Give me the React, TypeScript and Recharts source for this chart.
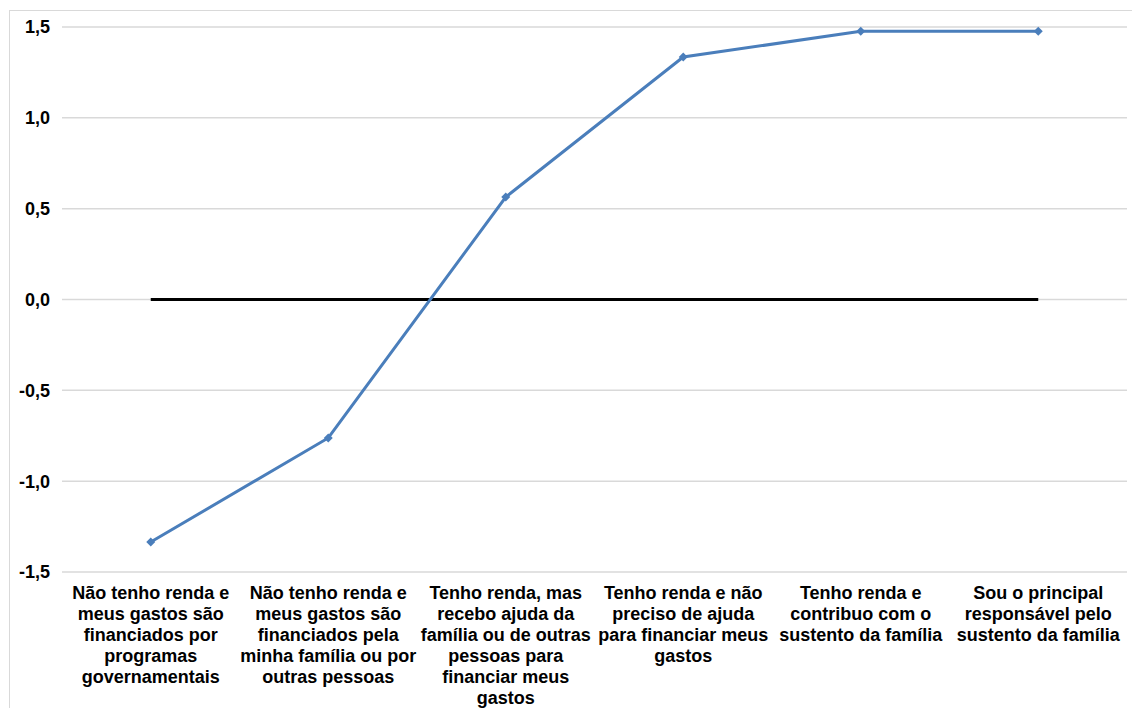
import { CartesianGrid, Line, LineChart, XAxis, YAxis } from "recharts";

const categories = [
  "Não tenho renda e\nmeus gastos são\nfinanciados por\nprogramas\ngovernamentais",
  "Não tenho renda e\nmeus gastos são\nfinanciados pela\nminha família ou por\noutras pessoas",
  "Tenho renda, mas\nrecebo ajuda da\nfamília ou de outras\npessoas para\nfinanciar meus\ngastos",
  "Tenho renda e não\npreciso de ajuda\npara financiar meus\ngastos",
  "Tenho renda e\ncontribuo com o\nsustento da família",
  "Sou o principal\nresponsável pelo\nsustento da família",
];
const scores = [-1.335, -0.762, 0.564, 1.335, 1.476, 1.476];
const zeroLine = [0, 0, 0, 0, 0, 0];
const yTicks = [-1.5, -1, -0.5, 0, 0.5, 1, 1.5];

const data = categories.map((name, i) => ({
  name,
  score: scores[i],
  zero: zeroLine[i],
}));

const FONT = "'Liberation Sans', Arial, sans-serif";

// multi-line category label under the axis
function CategoryTick(props: any) {
  const { x, y, payload } = props;
  const lines = String(payload.value).split("\n");
  return (
    <text
      x={x}
      y={y + 27}
      textAnchor="middle"
      fontFamily={FONT}
      fontWeight="bold"
      fontSize={18}
      fill="#000"
    >
      {lines.map((line, i) => (
        <tspan key={i} x={x} dy={i === 0 ? 0 : 21}>
          {line}
        </tspan>
      ))}
    </text>
  );
}

function Diamond(props: any) {
  const { cx, cy } = props;
  if (cx == null || cy == null) return null;
  const r = 4.5;
  return (
    <polygon
      points={`${cx},${cy - r} ${cx + r},${cy} ${cx},${cy + r} ${cx - r},${cy}`}
      fill="#4a7ebb"
    />
  );
}

export default function App() {
  return (
    <div style={{ position: "absolute", left: 0, top: 0, width: 1132, height: 708, background: "#fff" }}>
      {/* frame */}
      <div style={{ position: "absolute", left: 9, top: 10, width: 1123, height: 1, background: "#d9d9d9" }} />
      <div style={{ position: "absolute", left: 9, top: 10, width: 1, height: 698, background: "#d9d9d9" }} />
      <div style={{ position: "absolute", left: 0, top: 0 }}>
        <LineChart
          width={1132}
          height={708}
          data={data}
          margin={{ top: 27, right: 5, bottom: 0, left: 0 }}
        >
          <CartesianGrid vertical={false} stroke="#d9d9d9" strokeWidth={1.5} />
          <XAxis
            dataKey="name"
            axisLine={false}
            tickLine={false}
            tickSize={0}
            tickMargin={0}
            interval={0}
            padding={{ left: 88.75, right: 88.75 }}
            tick={<CategoryTick />}
            height={136}
          />
          <YAxis
            width={62}
            domain={[-1.5, 1.5]}
            ticks={yTicks}
            axisLine={false}
            tickLine={false}
            tickSize={0}
            tickMargin={12}
            tickFormatter={(v: number) => v.toFixed(1).replace(".", ",")}
            tick={{ fontFamily: FONT, fontWeight: "bold", fontSize: 18, fill: "#000" }}
          />
          <Line
            dataKey="zero"
            stroke="#000"
            strokeWidth={3}
            dot={false}
            activeDot={false}
            isAnimationActive={false}
          />
          <Line
            dataKey="score"
            stroke="#4a7ebb"
            strokeWidth={3}
            dot={<Diamond />}
            activeDot={false}
            isAnimationActive={false}
          />
        </LineChart>
      </div>
    </div>
  );
}
